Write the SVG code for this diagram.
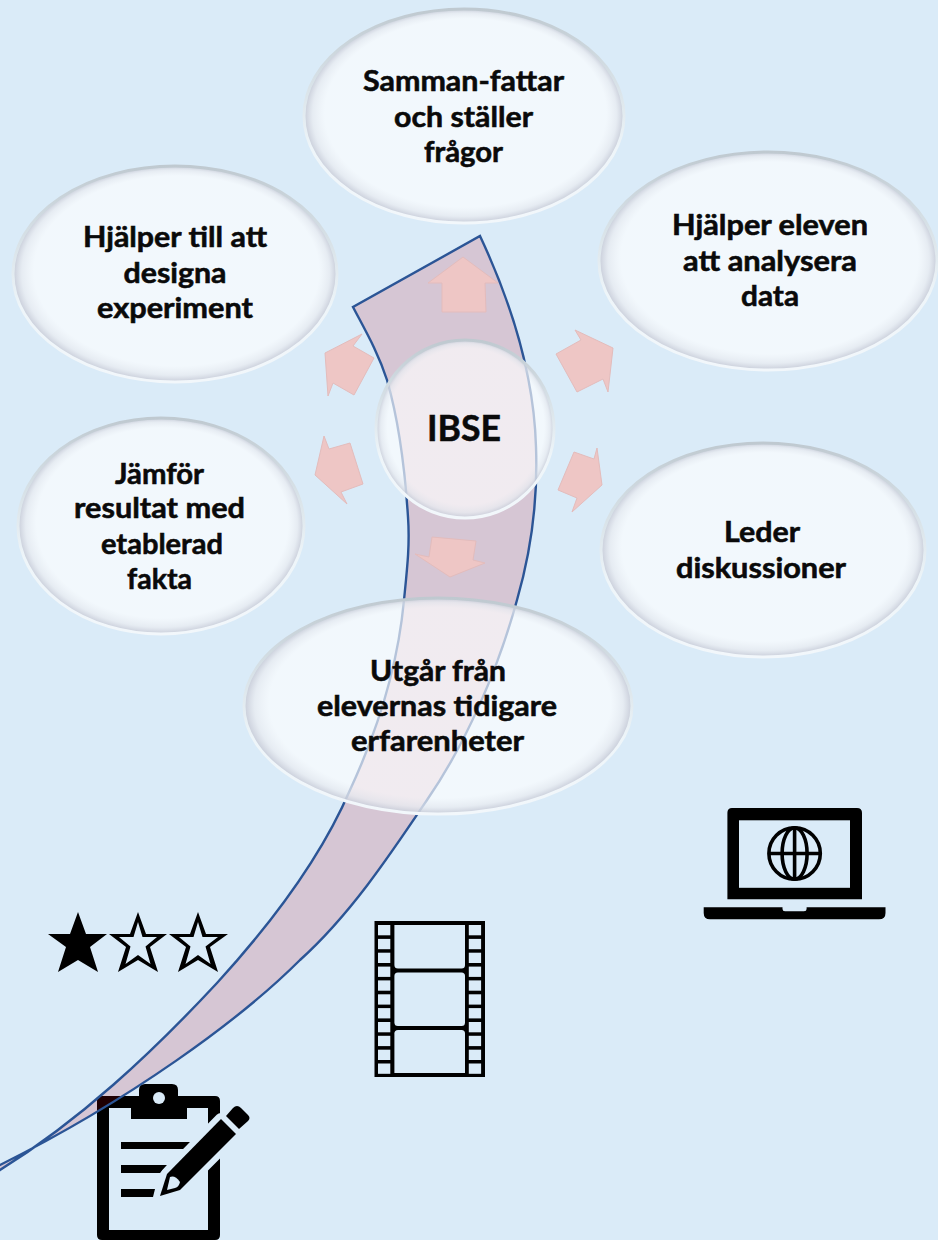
<svg xmlns="http://www.w3.org/2000/svg" width="938" height="1240" viewBox="0 0 938 1240">
<style>
.t{font-family:"Lato","Carlito","Liberation Sans",sans-serif;font-weight:700;fill:#0a0a0a;stroke:#0a0a0a;stroke-width:.55;font-size:28px;text-anchor:middle}
.e{fill:url(#bev);stroke:url(#rim);stroke-width:3}
.a{fill:#eec6c5;stroke:#e3bcbc;stroke-width:1;stroke-linejoin:miter}
.i{fill:#000}
.b{fill:#daebf8}
.rib{fill:rgb(200,0,20);fill-opacity:.155;stroke:#2b5596;stroke-width:2.400;stroke-linejoin:miter}
</style>
<defs>
<radialGradient id="bev" cx=".5" cy=".5" r=".5" fx=".54" fy=".38">
<stop offset="0" stop-color="#fff" stop-opacity=".65"/>
<stop offset=".88" stop-color="#fff" stop-opacity=".65"/>
<stop offset=".95" stop-color="#e9ecf1" stop-opacity=".8"/>
<stop offset=".99" stop-color="#cdd1dc" stop-opacity=".92"/>
<stop offset="1" stop-color="#cdd1dc" stop-opacity=".92"/>
</radialGradient>
<linearGradient id="rim" x1="0" y1="0" x2="0" y2="1">
<stop offset="0" stop-color="#bfc9d0"/>
<stop offset=".35" stop-color="#d8e2e8"/>
<stop offset=".65" stop-color="#eef5f9"/>
<stop offset="1" stop-color="#f2f7fb"/>
</linearGradient>
</defs>
<rect width="938" height="1240" class="b"/>

<g id="icon-clipboard">
<path class="i" d="M102,1096H139V1090Q139,1084 145,1084H172Q178,1084 178,1090V1096H215Q220,1096 220,1101V1235Q220,1240 215,1240H102Q97,1240 97,1235V1101Q97,1096 102,1096Z"/>
<rect class="b" x="109" y="1108" width="99" height="122"/>
<path class="i" d="M131,1107H187V1119H131Z"/>
<circle class="b" cx="159" cy="1098" r="6"/>
<path class="i" d="M121,1142H191L185,1149H121Z"/>
<path class="i" d="M121,1165H167L160,1173H121Z"/>
<path class="i" d="M121,1189H155L153,1197H121Z"/>
<path class="b" stroke="#daebf8" stroke-width="12" stroke-linejoin="round" d="M221,1119L236,1134L180,1190L160,1196L167,1174Z"/>
<path class="i" d="M221,1119L236,1134L180,1190L160,1196L167,1174Z"/>
<path class="b" d="M170,1177Q175,1175 180,1182Q179,1187 175,1188L167,1190Z"/>
<path class="i" d="M233,1108Q237,1104 241,1108L248,1115Q251,1118 248,1121L239,1129L226,1116Z"/>
</g>

<g id="icon-stars">
<path class="i" d="M78,912L86,934H107L90,947L98,972L78,960L58,972L66,947L48,934H70Z"/>
<path class="i" fill-rule="evenodd" d="M138,912L146,934H167L150,947L158,972L138,960L118,972L126,947L109,934H130ZM138,922L142.500,937H157L145.500,946.500L150.500,964L138,955L125.500,964L130.500,946.500L119,937H133.500Z"/>
<path class="i" fill-rule="evenodd" d="M198,912L206,934H228L210,947L218,972L198,960L178,972L186,947L169,934H190ZM198,922L202.500,937H218L205.500,946.500L210.500,964L198,955L185.500,964L190.500,946.500L179,937H193.500Z"/>
</g>

<g id="icon-film">
<rect class="i" x="374.500" y="921" width="110.500" height="156"/>
<g class="b">
<rect x="378" y="925" width="12.300" height="10.300"/><rect x="378" y="938.900" width="12.300" height="10.300"/><rect x="378" y="952.700" width="12.300" height="10.300"/><rect x="378" y="966.600" width="12.300" height="10.300"/><rect x="378" y="980.400" width="12.300" height="10.300"/><rect x="378" y="994.300" width="12.300" height="10.300"/><rect x="378" y="1008.100" width="12.300" height="10.300"/><rect x="378" y="1022" width="12.300" height="10.300"/><rect x="378" y="1035.800" width="12.300" height="10.300"/><rect x="378" y="1049.700" width="12.300" height="10.300"/><rect x="378" y="1063.500" width="12.300" height="10.300"/>
<rect x="468.800" y="925" width="12.300" height="10.300"/><rect x="468.800" y="938.900" width="12.300" height="10.300"/><rect x="468.800" y="952.700" width="12.300" height="10.300"/><rect x="468.800" y="966.600" width="12.300" height="10.300"/><rect x="468.800" y="980.400" width="12.300" height="10.300"/><rect x="468.800" y="994.300" width="12.300" height="10.300"/><rect x="468.800" y="1008.100" width="12.300" height="10.300"/><rect x="468.800" y="1022" width="12.300" height="10.300"/><rect x="468.800" y="1035.800" width="12.300" height="10.300"/><rect x="468.800" y="1049.700" width="12.300" height="10.300"/><rect x="468.800" y="1063.500" width="12.300" height="10.300"/>
<path d="M394.400,925H465V965Q465,968.500 461.500,968.500H398Q394.400,968.500 394.400,965Z"/>
<rect x="394.400" y="972.500" width="70.600" height="53.500" rx="3.500"/>
<path d="M398,1030H461.500Q465,1030 465,1033.500V1073H394.400V1033.500Q394.400,1030 398,1030Z"/>
</g>
</g>

<g id="icon-laptop">
<path class="i" d="M732,808H857Q862,808 862,813V899.300H727.400V813Q727.400,808 732,808Z"/>
<rect class="b" x="739" y="820.300" width="111" height="67.500"/>
<g fill="none" stroke="#000" stroke-width="3.600">
<circle cx="794.600" cy="853.500" r="25.700"/>
<ellipse cx="794.600" cy="853.500" rx="12.500" ry="25.700"/>
<path d="M794.600,828V879M769,853.500H820"/>
</g>
<path class="i" d="M703.700,907.300H782.500V909Q782.500,911.300 785,911.300H804Q806.600,911.300 806.600,909V907.300H885.500V913Q885.500,919.300 879,919.300H710Q703.700,919.300 703.700,913Z"/>
</g>

<g id="connectors">
<path id="ribbon" class="rib" d="M480,236C510,300 534,375 536,447C538,500 530,555 517,600C498,670 465,745 427,800C390,855 350,915 300,960C240,1020 130,1100 0,1165L-6,1168L-6,1174L0,1170C80,1120 150,1055 217,983C270,925 320,860 350,790C380,725 398,665 404,600C407,570 410,545 408,517C405,470 400,425 387,380C378,352 365,330 353,307Z"/>
</g>

<g id="node-top"><ellipse class="e" cx="464" cy="116" rx="160" ry="107"/>
<text class="t" x="463.500" y="91" textLength="201" lengthAdjust="spacingAndGlyphs">Samman-fattar</text>
<text class="t" x="463.500" y="127" textLength="139" lengthAdjust="spacingAndGlyphs">och ställer</text>
<text class="t" x="463.500" y="162" textLength="79" lengthAdjust="spacingAndGlyphs">frågor</text></g>

<g id="node-upper-left"><ellipse class="e" cx="175" cy="274" rx="162" ry="108"/>
<text class="t" x="175" y="247" textLength="184" lengthAdjust="spacingAndGlyphs">Hjälper till att</text>
<text class="t" x="175" y="283" textLength="103" lengthAdjust="spacingAndGlyphs">designa</text>
<text class="t" x="175" y="318" textLength="156" lengthAdjust="spacingAndGlyphs">experiment</text></g>

<g id="node-upper-right"><ellipse class="e" cx="768" cy="261" rx="169" ry="109"/>
<text class="t" x="770" y="235" textLength="196" lengthAdjust="spacingAndGlyphs">Hjälper eleven</text>
<text class="t" x="770" y="271" textLength="174" lengthAdjust="spacingAndGlyphs">att analysera</text>
<text class="t" x="770" y="306" textLength="58" lengthAdjust="spacingAndGlyphs">data</text></g>

<g id="node-lower-left"><ellipse class="e" cx="161" cy="526" rx="143" ry="108"/>
<text class="t" x="159.500" y="484" textLength="89" lengthAdjust="spacingAndGlyphs">Jämför</text>
<text class="t" x="159.500" y="518" textLength="171" lengthAdjust="spacingAndGlyphs">resultat med</text>
<text class="t" x="162" y="554" textLength="122" lengthAdjust="spacingAndGlyphs">etablerad</text>
<text class="t" x="159.500" y="589" textLength="65" lengthAdjust="spacingAndGlyphs">fakta</text></g>

<g id="node-lower-right"><ellipse class="e" cx="763" cy="550" rx="162" ry="107"/>
<text class="t" x="762" y="542" textLength="76" lengthAdjust="spacingAndGlyphs">Leder</text>
<text class="t" x="761" y="578" textLength="170" lengthAdjust="spacingAndGlyphs">diskussioner</text></g>

<g id="node-bottom"><ellipse class="e" cx="438" cy="706" rx="194" ry="108"/>
<text class="t" x="438" y="681" textLength="136" lengthAdjust="spacingAndGlyphs">Utgår från</text>
<text class="t" x="437" y="716" textLength="240" lengthAdjust="spacingAndGlyphs">elevernas tidigare</text>
<text class="t" x="437.500" y="751" textLength="173" lengthAdjust="spacingAndGlyphs">erfarenheter</text></g>

<g id="node-center"><circle class="e" cx="465" cy="429" r="89"/>
<text class="t" x="464" y="441" style="font-size:37px" textLength="74" lengthAdjust="spacingAndGlyphs">IBSE</text></g>

<g id="arrows">
<polygon class="a" points="463,257 498,283 485,283 486,312 442,312 442,283 428,283"/>
<polygon class="a" points="575,330 613,348 608,392 603,379 577,392 556,354 581,340"/>
<polygon class="a" points="597,448 602,485 572,512 577,498 558,490 574,452 594,459"/>
<polygon class="a" points="450,577 415,554 429,557 432,537 476,541 473,560 485,563"/>
<polygon class="a" points="324,436 315,475 347,504 341,492 363,484 350,443 329,449"/>
<polygon class="a" points="362,334 325,353 328,396 333,383 354,395 374,358 353,346"/>
</g>
</svg>
